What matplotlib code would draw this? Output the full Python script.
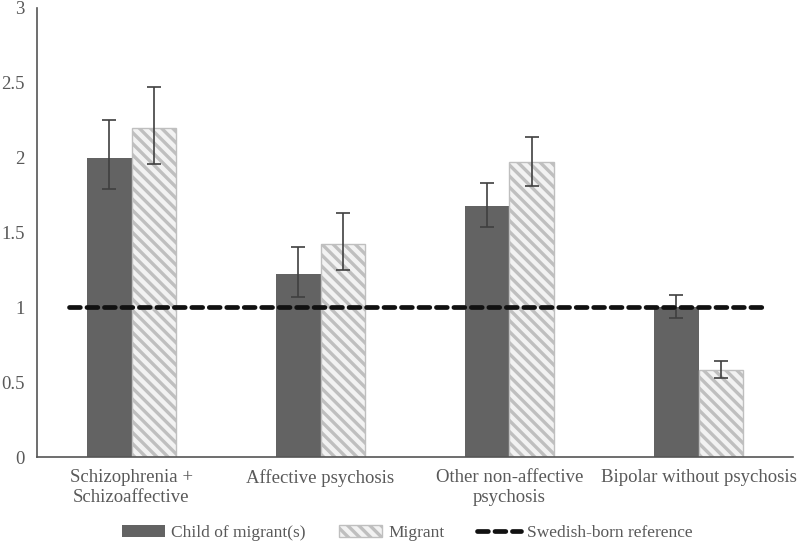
import matplotlib
matplotlib.use("Agg")
import matplotlib.pyplot as plt
import numpy as np

categories = ["Schizophrenia +\nSchizoaffective", "Affective psychosis",
              "Other non-affective\npsychosis", "Bipolar without psychosis"]
child = [2.00, 1.22, 1.68, 1.00]
child_lo = [1.79, 1.07, 1.54, 0.93]
child_hi = [2.25, 1.40, 1.83, 1.08]
migrant = [2.20, 1.42, 1.97, 0.58]
migrant_lo = [1.96, 1.25, 1.81, 0.53]
migrant_hi = [2.47, 1.63, 2.14, 0.64]
reference = 1.0

plt.rcParams['font.family'] = ['Liberation Serif', 'DejaVu Serif']
plt.rcParams['hatch.linewidth'] = 2.4
plt.rcParams['hatch.color'] = '#a6a6a6'

fig = plt.figure(figsize=(8, 5.44), dpi=100)
ax = fig.add_axes([37/800, 1-457/544, (793-37)/800, (457-8)/544])

x = np.arange(len(categories))
w = 0.238
child = np.array(child); migrant = np.array(migrant)
b1 = ax.bar(x - w/2, child, w, color='#636363', label='Child of migrant(s)', zorder=2)
b2 = ax.bar(x + w/2, migrant, w, color='#f2f2f2', edgecolor='#bfbfbf', hatch='\\\\\\',
            linewidth=1, label='Migrant', zorder=2)
ax.errorbar(x - w/2, child, yerr=[child - np.array(child_lo), np.array(child_hi) - child],
            fmt='none', ecolor='#404040', elinewidth=1.2, capsize=5, capthick=1.2, zorder=3)
ax.errorbar(x + w/2, migrant, yerr=[migrant - np.array(migrant_lo), np.array(migrant_hi) - migrant],
            fmt='none', ecolor='#404040', elinewidth=1.2, capsize=5, capthick=1.2, zorder=3)
ln, = ax.plot([-0.33, 3.36], [reference, reference], color='#111111', lw=3.4,
              dashes=(2.3, 1.4), dash_capstyle='round', label='Swedish-born reference', zorder=4)

ax.set_xlim(-0.5, 3.5)
ax.set_ylim(0, 3)
ax.set_yticks([0, 0.5, 1, 1.5, 2, 2.5, 3])
ax.set_yticklabels(['0', '0.5', '1', '1.5', '2', '2.5', '3'])
ax.set_xticks(x)
ax.set_xticklabels(categories)
ax.tick_params(axis='x', length=0, labelsize=13.5, colors='#595959', pad=9)
ax.tick_params(axis='y', length=0, labelsize=13.5, colors='#595959', pad=9)
for s in ['top', 'right']:
    ax.spines[s].set_visible(False)
for s in ['left', 'bottom']:
    ax.spines[s].set_color('#555555')
    ax.spines[s].set_linewidth(1.2)

leg = fig.legend(handles=[b1, b2, ln], loc='center', bbox_to_anchor=(0.509, 1-533/544),
                 ncol=3, frameon=False, fontsize=12.5, handlelength=2.5, columnspacing=1.9,
                 handletextpad=0.35)
for t in leg.get_texts():
    t.set_color('#595959')
fig.savefig('out.png', dpi=100)
